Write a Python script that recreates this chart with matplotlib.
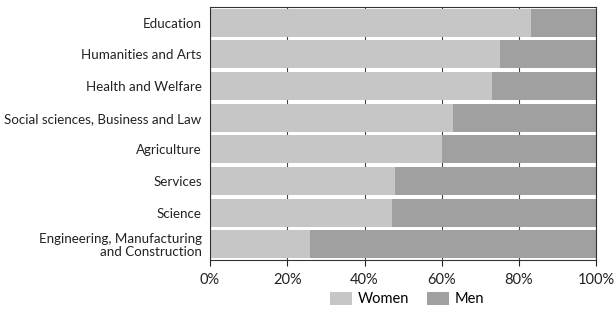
import numpy as np
import matplotlib.pyplot as plt
from matplotlib.ticker import PercentFormatter

plt.switch_backend('Agg')
plt.rc("font", family="Lato")

categories = ['Education', 'Humanities and Arts', 'Health and Welfare',
              'Social sciences, Business and Law', 'Agriculture', 'Services',
              'Science', 'Engineering, Manufacturing\nand Construction']
women = [83, 75, 73, 63, 60, 48, 47, 26]
men = [100 - w for w in women]

fig = plt.figure(figsize=(6.15, 3.13), dpi=100)
ax = fig.add_axes([0.3415, 0.169, 0.628, 0.809])

y = np.arange(len(categories))
ax.barh(y, women, height=0.88, color='#c6c6c6', label='Women', zorder=2)
ax.barh(y, men, left=women, height=0.88, color='#a0a0a0', label='Men', zorder=2)

ax.set_ylim(len(categories) - 0.5, -0.5)
ax.set_xlim(0, 100)
ax.set_yticks(y)
ax.set_yticklabels(categories, fontsize=9.6, color='#222222', linespacing=1.1)
ax.tick_params(axis='y', length=0, pad=6)
ax.set_xticks([0, 20, 40, 60, 80, 100])
ax.xaxis.set_major_formatter(PercentFormatter(decimals=0))
ax.tick_params(axis='x', labelsize=10.5, length=4, direction='out', colors='#222222', pad=5)
ax.grid(axis='x', color='#444444', linewidth=0.8, zorder=1)
for s in ax.spines.values():
    s.set_color('#333333')
    s.set_linewidth(0.8)

fig.legend(loc='center', bbox_to_anchor=(0.662, 0.045), ncol=2, frameon=False,
           fontsize=10.5, handlelength=1.5, handleheight=1.0, columnspacing=1.2,
           handletextpad=0.4)

fig.savefig('out.png', dpi=100)
plt.close()
